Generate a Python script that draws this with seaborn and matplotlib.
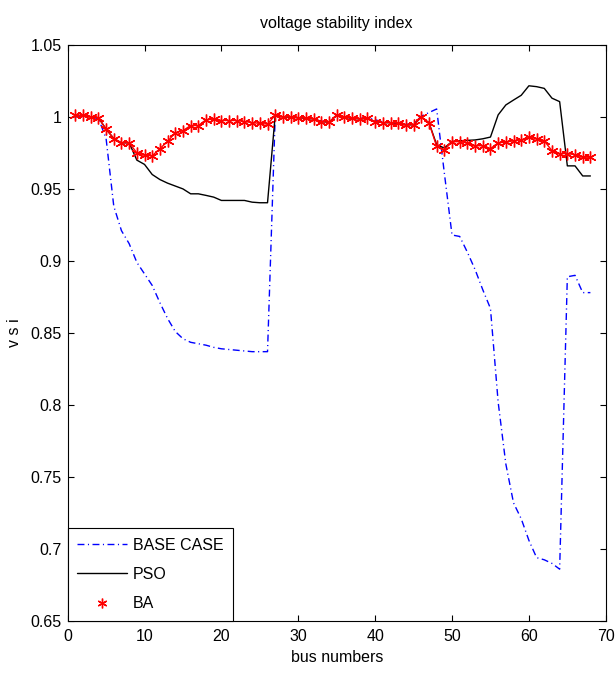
import numpy as np
import pandas as pd
import seaborn as sns
import matplotlib.pyplot as plt
from matplotlib.lines import Line2D

# bus index 1..68
bus = list(range(1, 69))

base_case = [1.000, 1.000, 0.9995, 0.999, 0.985, 0.938, 0.921, 0.912, 0.899, 0.891,
             0.883, 0.871, 0.860, 0.851, 0.846, 0.8435, 0.8425, 0.8415, 0.840, 0.839,
             0.8385, 0.838, 0.8375, 0.837, 0.837, 0.837, 1.001, 1.000, 0.9998, 0.9995,
             0.999, 0.9986, 0.997, 0.9965, 1.0010, 1.000, 0.9992, 0.999, 0.9995, 0.998,
             0.9965, 0.996, 0.9956, 0.9948, 0.9955, 1.0005, 1.003, 1.0055, 0.961, 0.918,
             0.917, 0.906, 0.894, 0.880, 0.867, 0.802, 0.759, 0.732, 0.721, 0.706,
             0.694, 0.6925, 0.690, 0.686, 0.889, 0.890, 0.878, 0.878]

pso = [1.001, 1.001, 1.000, 0.9995, 0.9915, 0.985, 0.982, 0.982, 0.970, 0.967,
       0.960, 0.9565, 0.954, 0.952, 0.950, 0.9466, 0.9466, 0.9455, 0.9443, 0.942,
       0.942, 0.942, 0.942, 0.9408, 0.9404, 0.9404, 1.0012, 1.000, 0.9998, 0.9995,
       0.999, 0.9986, 0.9968, 0.9963, 1.0013, 1.000, 0.999, 0.9986, 0.999, 0.9968,
       0.996, 0.996, 0.9956, 0.9945, 0.9945, 0.9998, 0.996, 0.9807, 0.9784, 0.983,
       0.9834, 0.9837, 0.984, 0.9848, 0.986, 1.0014, 1.0083, 1.0117, 1.015, 1.0216,
       1.021, 1.0198, 1.013, 1.0106, 0.966, 0.966, 0.959, 0.959]

ba = [1.001, 1.001, 1.000, 0.9995, 0.9915, 0.985, 0.982, 0.982, 0.975, 0.9735,
      0.973, 0.978, 0.983, 0.989, 0.9905, 0.994, 0.994, 0.998, 0.9985, 0.9975,
      0.9975, 0.9975, 0.9968, 0.996, 0.9955, 0.995, 1.0012, 1.000, 0.9998, 0.9995,
      0.999, 0.9986, 0.9968, 0.9963, 1.0013, 1.000, 0.999, 0.9986, 0.999, 0.9968,
      0.996, 0.996, 0.9956, 0.9945, 0.9945, 0.9998, 0.996, 0.9795, 0.977, 0.9828,
      0.9828, 0.982, 0.980, 0.980, 0.978, 0.982, 0.9825, 0.9834, 0.984, 0.9857,
      0.985, 0.9834, 0.9765, 0.9745, 0.9745, 0.9738, 0.972, 0.972]

series_names = ['BASE CASE', 'PSO', 'BA']
x_ticks = [0, 10, 20, 30, 40, 50, 60, 70]
y_ticks = [0.65, 0.7, 0.75, 0.8, 0.85, 0.9, 0.95, 1.0, 1.05]
y_tick_labels = ['0.65', '0.7', '0.75', '0.8', '0.85', '0.9', '0.95', '1', '1.05']

sns.set_style('ticks')
plt.rcParams['font.family'] = ['Liberation Sans', 'DejaVu Sans']
plt.rcParams['axes.linewidth'] = 0.8
plt.rcParams['text.color'] = 'black'
plt.rcParams['axes.labelcolor'] = 'black'
plt.rcParams['xtick.color'] = 'black'
plt.rcParams['ytick.color'] = 'black'

fig = plt.figure(figsize=(6.15, 6.77), dpi=100)
ax = fig.add_axes([0.110, 0.0827, 0.875, 0.851])

dashdot = (0, (5, 2.5, 0.8, 2.5))
star = (6, 2, 0)

sns.lineplot(x=bus, y=base_case, ax=ax, color='#0000ff', linestyle=dashdot, lw=1)
sns.lineplot(x=bus, y=pso, ax=ax, color='black', lw=1)
sns.lineplot(x=bus, y=ba, ax=ax, color='#ff0000', lw=1, marker=star,
             markersize=8.5, markeredgewidth=1, markeredgecolor='#ff0000')

ax.set_xlim(0, 70)
ax.set_ylim(0.65, 1.05)
ax.set_xticks(x_ticks)
ax.set_yticks(y_ticks)
ax.set_yticklabels(y_tick_labels)
ax.tick_params(direction='in', length=4, width=0.8, top=True, right=True,
               labelsize=11.5, colors='black')
ax.xaxis.set_tick_params(pad=6)
ax.yaxis.set_tick_params(pad=4.5)
for sp in ax.spines.values():
    sp.set_visible(True)
    sp.set_color('black')
    sp.set_linewidth(0.8)

ax.set_title('voltage stability index', fontsize=11.5, pad=12, color='black')
ax.set_xlabel('bus numbers', fontsize=11.5, labelpad=4)
ax.set_ylabel('v s i', fontsize=11.5, labelpad=6)

handles = [Line2D([], [], color='#0000ff', linestyle=dashdot, lw=1),
           Line2D([], [], color='black', lw=1),
           Line2D([], [], color='#ff0000', linestyle='none', marker=star,
                  markersize=7, markeredgewidth=1)]
leg = ax.legend(handles, series_names, loc='lower left', bbox_to_anchor=(0, 0),
                borderaxespad=0, frameon=True, fancybox=False, edgecolor='black',
                framealpha=1, fontsize=11.5, handlelength=3.1, handletextpad=0.4,
                labelspacing=0.9, borderpad=0.6)
leg.get_frame().set_linewidth(0.8)
for t in leg.get_texts():
    t.set_color('black')

plt.savefig('out.png', dpi=100)
